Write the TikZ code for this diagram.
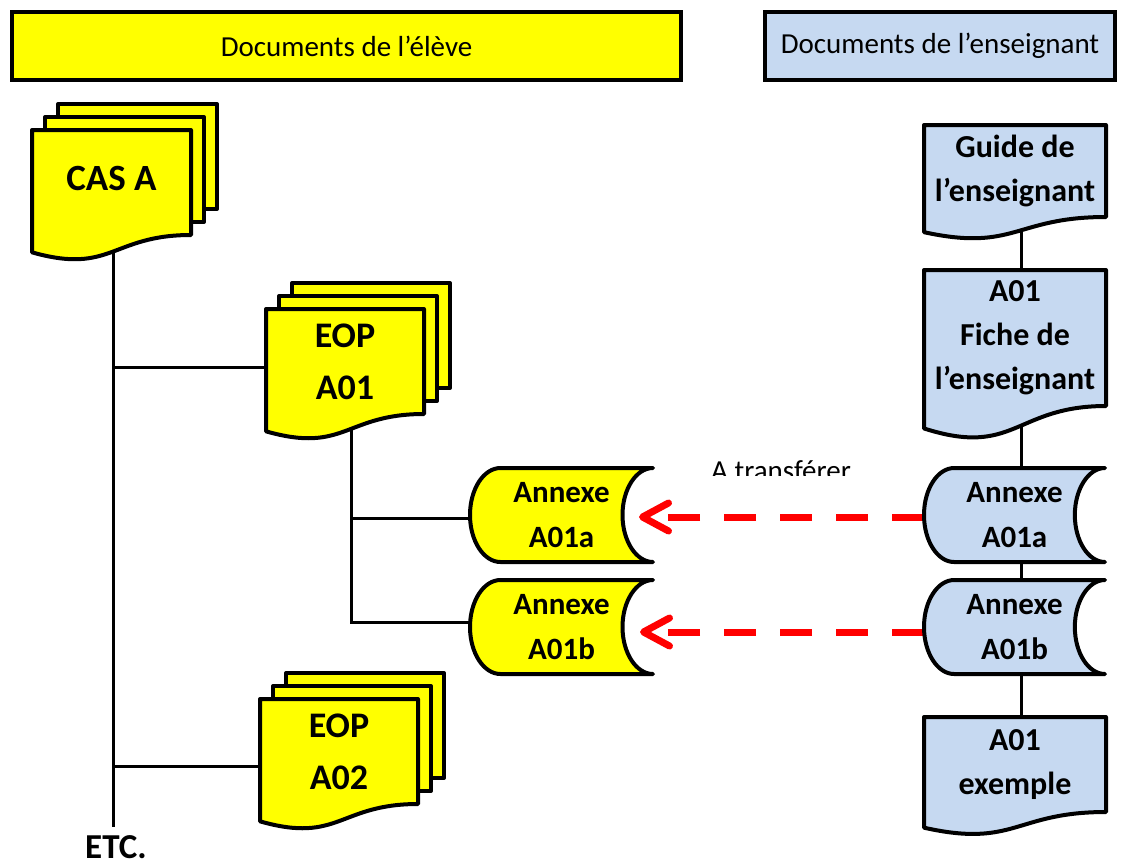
\documentclass[tikz,border=0pt]{standalone}
\usepackage{fontspec}
\setmainfont{Carlito}
\usetikzlibrary{calc,arrows.meta}
\definecolor{docyellow}{RGB}{255,255,0}
\definecolor{docblue}{RGB}{198,217,241}
\definecolor{arrowred}{RGB}{255,0,0}
\pgfdeclarelayer{bg}
\pgfdeclarelayer{shapes}
\pgfsetlayers{bg,shapes,main}
% document shape (wavy bottom) drawn from a node's rectangle
\newcommand\mkdoc[2]{%
  \path[shapeline,fill=#2] let \p1=(#1.north west), \p2=(#1.south east),
    \n1={\y1-\y2}, \n2={0.5*(\x1+\x2)} in
    (\x1,\y1) -- (\x2,\y1) -- (\x2,\y2)
    .. controls (\n2,\y2) and (\n2,{\y2-0.38*\n1}) .. (\x1,{\y2-0.165*\n1}) -- cycle;}
% multi-document: two pages behind the front one
\newcommand\mkmulti[2]{%
  \path[shapeline,fill=#2] ([xshift=26pt,yshift=26pt]#1.north west) rectangle ([xshift=26pt,yshift=26pt]#1.south east);
  \path[shapeline,fill=#2] ([xshift=13pt,yshift=13pt]#1.north west) rectangle ([xshift=13pt,yshift=13pt]#1.south east);
  \mkdoc{#1}{#2}}
% stored-data shape (convex left, concave right)
\newcommand\mkstore[2]{%
  \path[shapeline,fill=#2] let \p1=(#1.north west), \p2=(#1.south east),
    \n1={(\x2-\x1)/6}, \n2={(\y1-\y2)/2}, \n3={(\y1+\y2)/2} in
    ({\x1+\n1},\y1) -- (\x2,\y1)
    .. controls ({\x2-0.5523*\n1},\y1) and ({\x2-\n1},{\n3+0.5523*\n2}) .. ({\x2-\n1},\n3)
    .. controls ({\x2-\n1},{\n3-0.5523*\n2}) and ({\x2-0.5523*\n1},\y2) .. (\x2,\y2)
    -- ({\x1+\n1},\y2)
    .. controls ({\x1+0.4477*\n1},\y2) and (\x1,{\n3-0.5523*\n2}) .. (\x1,\n3)
    .. controls (\x1,{\n3+0.5523*\n2}) and ({\x1+0.4477*\n1},\y1) .. cycle;}
\begin{document}
\begin{tikzpicture}[x=1pt,y=-1pt,
  shapeline/.style={draw=black,line width=4pt,line join=round},
  conn/.style={draw=black,line width=3pt},
  redarrow/.style={draw=arrowred,line width=7pt,dash pattern=on 32pt off 24pt,
    -{Straight Barb[length=26pt,width=28pt,round,sep=12pt]}},
  header/.style={draw=black,line width=4pt,inner sep=0pt,font=\fontsize{29}{35}\selectfont},
  area/.style={inner sep=0pt,outer sep=0pt,align=center,text=black},
  casfont/.style={font=\fontsize{37}{52}\selectfont\bfseries},
  eopfont/.style={font=\fontsize{36}{52}\selectfont\bfseries},
  annfont/.style={font=\fontsize{31}{45}\selectfont\bfseries},
  ensfont/.style={font=\fontsize{32}{44}\selectfont\bfseries},
  etcfont/.style={font=\fontsize{35}{42}\selectfont\bfseries},
  plainfont/.style={font=\fontsize{29}{35}\selectfont}]
\useasboundingbox (0,0) rectangle (1121,865);

% headers
\node[header,fill=docyellow,minimum width=669pt,minimum height=68pt] (hEleve) at (346.5,46) {Documents de l’élève};
\node[header,fill=docblue,minimum width=350pt,minimum height=68pt] (hEns) at (940,46) {Documents de l’enseignant};

% student documents
\node[area,casfont,minimum width=159pt,minimum height=105pt,text height=24pt,text depth=9pt] (casA) at (111.5,182.5) {CAS A};
\node[area,eopfont,minimum width=158pt,minimum height=105pt] (eop1) at (345,361.5) {EOP\\A01};
\node[area,eopfont,minimum width=158pt,minimum height=105pt] (eop2) at (339,751.5) {EOP\\A02};
\node[area,annfont,minimum width=183pt,minimum height=94pt] (annA) at (561.5,515) {Annexe\\A01a};
\node[area,annfont,minimum width=183pt,minimum height=94pt] (annB) at (561.5,627) {Annexe\\A01b};
\node[anchor=base,etcfont,inner sep=0pt] (etc) at (116,858) {ETC.};

% teacher documents
\node[area,ensfont,minimum width=182pt,minimum height=92pt] (guide) at (1015,171) {Guide de\\l’enseignant};
\node[area,ensfont,minimum width=182pt,minimum height=136pt] (fiche) at (1015,338) {A01\\Fiche de\\l’enseignant};
\node[area,annfont,minimum width=181pt,minimum height=94pt] (bannA) at (1014.5,515) {Annexe\\A01a};
\node[area,annfont,minimum width=181pt,minimum height=94pt] (bannB) at (1014.5,627) {Annexe\\A01b};
\node[area,ensfont,minimum width=182pt,minimum height=95pt] (exemple) at (1015,764.5) {A01\\exemple};

% label, clipped as in the original
\begin{scope}
  \clip (690,440) rectangle (880,475.5);
  \node[anchor=base,plainfont,inner sep=0pt] (transfer) at (781,480) {A transférer};
\end{scope}

% shapes
\begin{pgfonlayer}{shapes}
  \mkmulti{casA}{docyellow}
  \mkmulti{eop1}{docyellow}
  \mkmulti{eop2}{docyellow}
  \mkstore{annA}{docyellow}
  \mkstore{annB}{docyellow}
  \mkdoc{guide}{docblue}
  \mkdoc{fiche}{docblue}
  \mkstore{bannA}{docblue}
  \mkstore{bannB}{docblue}
  \mkdoc{exemple}{docblue}
\end{pgfonlayer}

% connectors
\begin{pgfonlayer}{bg}
  \coordinate (casDrop) at ([xshift=1.5pt]casA.south);
  \coordinate (eop1in) at ([yshift=-5.5pt]eop1.west);
  \coordinate (eop2in) at ([yshift=-14.5pt]eop2.west);
  \draw[conn] (casDrop) -- ($(casDrop |- etc.north)+(0,-8)$);
  \draw[conn] (casDrop |- eop1in) -- (eop1in);
  \draw[conn] (casDrop |- eop2in) -- (eop2in);

  \coordinate (eopDrop) at ([xshift=6pt]eop1.south);
  \coordinate (annAin) at ([yshift=-3pt]annA.west);
  \coordinate (annBin) at ([yshift=5pt]annB.west);
  \draw[conn] (eopDrop) |- (annBin);
  \draw[conn] (eopDrop |- annAin) -- (annAin);

  \coordinate (spine) at ([xshift=6pt]guide.south);
  \draw[conn] (spine) -- (spine |- fiche.north);
  \draw[conn] (spine |- fiche.south) -- (spine |- bannA.north);
  \draw[conn] (spine |- bannA.south) -- (spine |- bannB.north);
  \draw[conn] (spine |- bannB.south) -- (spine |- exemple.north);

  \draw[redarrow] ([yshift=-2pt]bannA.west) -- ([xshift=-26pt,yshift=-2pt]annA.east);
  \draw[redarrow] ([yshift=-5pt]bannB.west) -- ([xshift=-25pt,yshift=-5pt]annB.east);
\end{pgfonlayer}
\end{tikzpicture}
\end{document}
